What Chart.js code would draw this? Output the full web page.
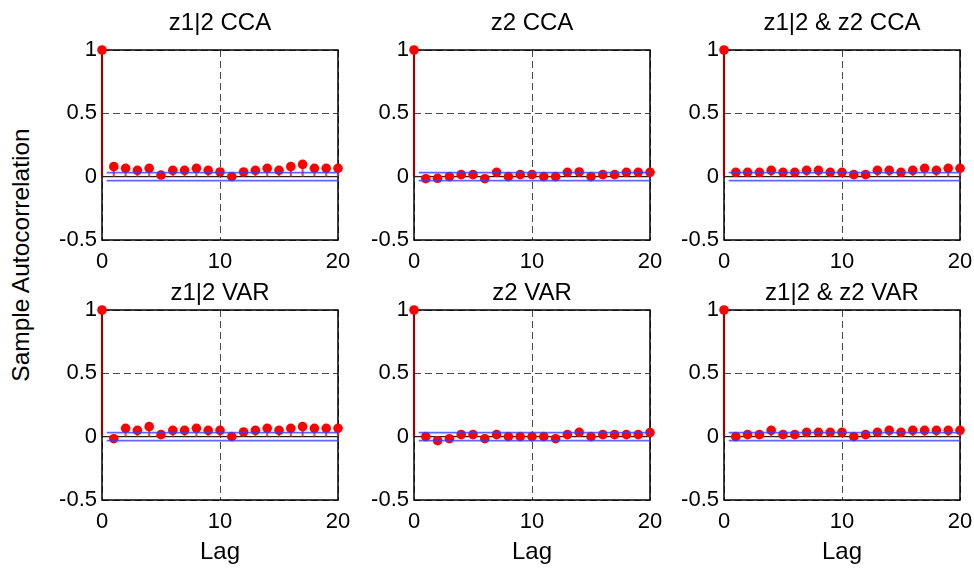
<!DOCTYPE html>
<html>
<head>
<meta charset="utf-8">
<script src="https://cdn.jsdelivr.net/npm/chart.js@4/dist/chart.umd.min.js"></script>
<style>
    body { margin: 0; background: #fff; width: 974px; height: 568px; position: relative; overflow: hidden; font-family: "Liberation Sans", Arial, sans-serif; }
    canvas { position: absolute; }
    #ylab { position: absolute; left: 21px; top: 255px; transform: translate(-50%, -50%) rotate(-90deg); font-size: 24.5px; white-space: nowrap; color: #000; }
</style>
</head>
<body>
<div id="ylab">Sample Autocorrelation</div>
<canvas id="p0"></canvas>
<canvas id="p1"></canvas>
<canvas id="p2"></canvas>
<canvas id="p3"></canvas>
<canvas id="p4"></canvas>
<canvas id="p5"></canvas>
<script>
// lags and panel titles
const lags = [0, 1, 2, 3, 4, 5, 6, 7, 8, 9, 10, 11, 12, 13, 14, 15, 16, 17, 18, 19, 20];
const titles = ['z1|2 CCA', 'z2 CCA', 'z1|2 & z2 CCA', 'z1|2 VAR', 'z2 VAR', 'z1|2 & z2 VAR'];

// sample autocorrelation
const z12CCA   = [1, 0.079, 0.066, 0.05, 0.066, 0.013, 0.05, 0.05, 0.066, 0.05, 0.037, 0.0, 0.037, 0.05, 0.066, 0.05, 0.079, 0.097, 0.066, 0.066, 0.066];
const z2CCA    = [1, -0.016, -0.013, 0.0, 0.016, 0.016, -0.016, 0.034, 0.0, 0.016, 0.016, 0.0, 0.0, 0.034, 0.037, 0.0, 0.016, 0.016, 0.034, 0.034, 0.034];
const bothCCA  = [1, 0.034, 0.034, 0.034, 0.05, 0.034, 0.034, 0.05, 0.05, 0.034, 0.034, 0.016, 0.016, 0.05, 0.05, 0.034, 0.05, 0.066, 0.05, 0.066, 0.066];
const z12VAR   = [1, -0.016, 0.066, 0.05, 0.079, 0.016, 0.05, 0.05, 0.066, 0.05, 0.05, 0.0, 0.037, 0.05, 0.066, 0.05, 0.066, 0.079, 0.066, 0.066, 0.066];
const z2VAR    = [1, 0.0, -0.032, -0.016, 0.016, 0.016, -0.016, 0.016, 0.0, 0.0, 0.0, 0.0, -0.016, 0.016, 0.034, 0.0, 0.016, 0.016, 0.016, 0.016, 0.032];
const bothVAR  = [1, 0.0, 0.016, 0.016, 0.05, 0.016, 0.016, 0.034, 0.034, 0.034, 0.034, 0.0, 0.016, 0.034, 0.05, 0.034, 0.05, 0.05, 0.05, 0.05, 0.05];
const panelValues = [z12CCA, z2CCA, bothCCA, z12VAR, z2VAR, bothVAR];

// confidence bounds (drawn from boundStart to the last lag)
const confBound = 0.032;
const boundStart = 0.4;

// axis ticks
const xTickValues = [0, 10, 20];
const xTickLabels = ['0', '10', '20'];
const yTickValues = [-0.5, 0, 0.5, 1];
const yTickLabels = ['-0.5', '0', '0.5', '1'];

const FONT = '"Liberation Sans", Arial, sans-serif';
const colLeft = [102, 414, 724];
const rowTop = [50, 310];
const plotW = 236, plotH = 190;
const yAxisW = 62;
const rightPad = 26;

// black box around the plot area, under the data
const frame = {
    id: 'frame',
    beforeDatasetsDraw(chart) {
        const { ctx, chartArea: a } = chart;
        ctx.save();
        ctx.strokeStyle = '#000';
        ctx.lineWidth = 1.5;
        ctx.strokeRect(a.left, a.top, a.width, a.height);
        ctx.restore();
    }
};

function makePanel(i) {
    const row = Math.floor(i / 3), col = i % 3;
    const canvas = document.getElementById('p' + i);
    const left = colLeft[col] - yAxisW;
    const top = row === 0 ? 0 : 260;
    const xAxisH = row === 0 ? 34 : 68;
    const height = (rowTop[row] - top) + plotH + xAxisH;
    canvas.width = yAxisW + plotW + rightPad;
    canvas.height = height;
    canvas.style.left = left + 'px';
    canvas.style.top = top + 'px';

    const vals = panelValues[i];
    const points = lags.map((l, k) => ({ x: l, y: vals[k] }));
    const lastLag = lags[lags.length - 1];
    const titleSize = 24;
    const titleTop = row === 0 ? 9 : 19;
    const titleBottom = (rowTop[row] - top) - titleTop - titleSize * 1.2;

    new Chart(canvas.getContext('2d'), {
        type: 'scatter',
        data: {
            datasets: [
                {
                    type: 'line',
                    data: [{ x: boundStart, y: confBound }, { x: lastLag, y: confBound }],
                    borderColor: 'rgba(60, 60, 255, 0.8)',
                    borderWidth: 1.8,
                    pointRadius: 0
                },
                {
                    type: 'line',
                    data: [{ x: boundStart, y: -confBound }, { x: lastLag, y: -confBound }],
                    borderColor: 'rgba(60, 60, 255, 0.8)',
                    borderWidth: 1.8,
                    pointRadius: 0
                },
                {
                    data: points,
                    pointRadius: 4.8,
                    backgroundColor: '#ff0000',
                    borderColor: '#ff0000',
                    borderWidth: 0,
                    clip: false
                },
                {
                    type: 'bar',
                    data: points,
                    barThickness: 1.5,
                    backgroundColor: lags.map(l => l === 0 ? '#a00000' : 'rgba(235, 40, 40, 0.85)'),
                    clip: false
                },
                {
                    type: 'line',
                    data: [{ x: 0, y: 0 }, { x: lastLag, y: 0 }],
                    borderColor: '#222',
                    borderWidth: 1.2,
                    pointRadius: 0
                }
            ]
        },
        options: {
            responsive: false,
            animation: false,
            layout: { padding: { left: 0, right: rightPad, top: 0, bottom: 0 } },
            plugins: {
                legend: { display: false },
                tooltip: { enabled: false },
                title: {
                    display: true,
                    fullSize: false,
                    text: titles[i],
                    color: '#000',
                    font: { family: FONT, size: titleSize, weight: 'normal', lineHeight: 1.2 },
                    padding: { top: titleTop, bottom: titleBottom }
                }
            },
            scales: {
                x: {
                    type: 'linear',
                    min: 0,
                    max: 20,
                    offset: false,
                    afterBuildTicks: s => { s.ticks = xTickValues.map(v => ({ value: v })); },
                    afterFit: s => { s.height = xAxisH; },
                    ticks: {
                        color: '#000',
                        padding: 9,
                        maxRotation: 0,
                        autoSkip: false,
                        font: { family: FONT, size: 22 },
                        callback: v => xTickLabels[xTickValues.indexOf(v)]
                    },
                    grid: { color: '#4a4a4a', lineWidth: 1, drawTicks: false, offset: false },
                    border: { display: false, dash: [7, 4] },
                    title: {
                        display: row === 1,
                        text: 'Lag',
                        color: '#000',
                        font: { family: FONT, size: 24, lineHeight: 1.2 },
                        padding: { top: 0, bottom: 1 }
                    }
                },
                y: {
                    type: 'linear',
                    min: -0.5,
                    max: 1,
                    afterBuildTicks: s => { s.ticks = yTickValues.map(v => ({ value: v })); },
                    afterFit: s => { s.width = yAxisW; },
                    ticks: {
                        color: '#000',
                        padding: 5,
                        autoSkip: false,
                        font: { family: FONT, size: 22 },
                        callback: v => yTickLabels[yTickValues.indexOf(v)]
                    },
                    grid: { color: '#4a4a4a', lineWidth: 1, drawTicks: false },
                    border: { display: false, dash: [7, 4] }
                }
            }
        },
        plugins: [frame]
    });
}

for (let i = 0; i < 6; i++) makePanel(i);
</script>
</body>
</html>
